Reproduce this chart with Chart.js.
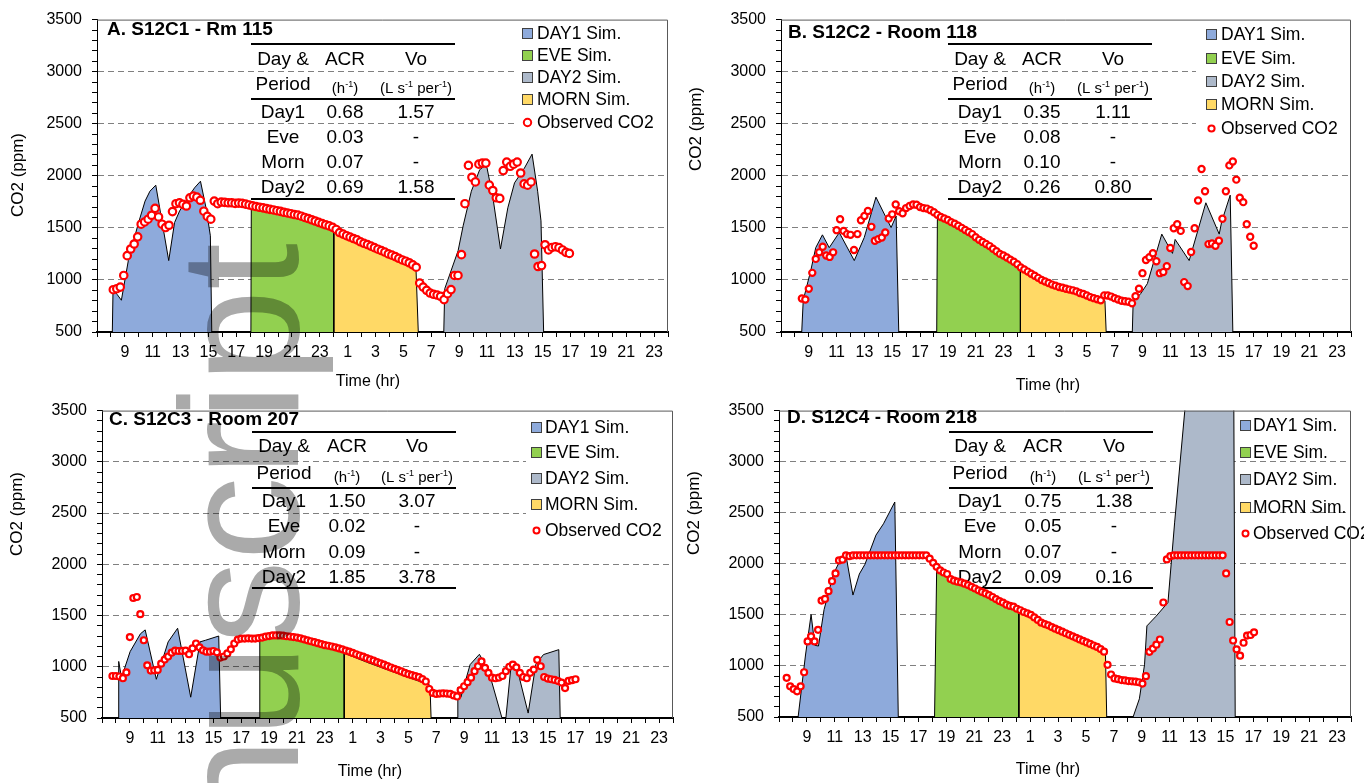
<!DOCTYPE html>
<html>
<head>
<meta charset="utf-8">
<script src="https://cdn.jsdelivr.net/npm/chart.js@4.4.1/dist/chart.umd.min.js"></script>
<style>
  html, body { margin: 0; padding: 0; background: #fff; }
  #page { position: relative; width: 1364px; height: 783px; overflow: hidden; }
  canvas.panel { position: absolute; }
  #mark { position: absolute; left: 0; top: 0; pointer-events: none; mix-blend-mode: multiply; }
</style>
</head>
<body>
<div id="page">
  <canvas id="pA" class="panel" width="682" height="391" style="left:0;top:0"></canvas>
  <canvas id="pB" class="panel" width="682" height="400" style="left:682px;top:0"></canvas>
  <canvas id="pC" class="panel" width="682" height="392" style="left:0;top:391px"></canvas>
  <canvas id="pD" class="panel" width="682" height="392" style="left:682px;top:391px"></canvas>
  <canvas id="mark" width="1364" height="783"></canvas>
</div>
<script>
const SANS = '"Liberation Sans", Arial, sans-serif';
Chart.defaults.font.family = SANS;
Chart.defaults.color = '#000';

// time axis runs over two days, hours 7 .. 48 (24 = midnight)
const OBS_STEP = 0.25;
const LEGEND_LABELS = ['DAY1 Sim.', 'EVE Sim.', 'DAY2 Sim.', 'MORN Sim.', 'Observed CO2'];
const PERIODS = ['Day1', 'Eve', 'Morn', 'Day2'];
const COLORS = { day1: '#8eaadb', eve: '#92d050', day2: '#adb9ca', morn: '#ffd966' };

// ---- A. S12C1 - Rm 115
const acrA = ['0.68', '0.03', '0.07', '0.69'];
const voA = ['1.57', '-', '-', '1.58'];
const obsStartA = 8.17;
const obsA = [906,916,931,1043,1233,1297,1345,1414,1535,1557,
  1583,1621,1688,1605,1535,1503,1525,1656,1732,1741,
  1726,1710,1789,1805,1795,1765,1660,1610,1583,1757,
  1732,1748,1745,1741,1741,1735,1738,1735,1728,1720,
  1712,1705,1698,1692,1685,1678,1672,1665,1658,1650,
  1643,1636,1628,1622,1612,1600,1590,1578,1566,1553,
  1541,1530,1519,1505,1485,1455,1440,1425,1412,1398,
  1385,1366,1352,1340,1325,1310,1295,1282,1268,1250,
  1238,1224,1208,1192,1180,1165,1145,1122,970,931,
  900,874,862,855,843,811,868,907,1043,1043,
  1243,1732,2100,1986,1941,2112,2122,2122,1910,1859,
  1789,1783,2050,2132,2091,2112,2132,2027,1922,1910,
  1941,1249,1129,1138,1338,1288,1312,1319,1310,1288,
  1265,1255];
const day1A = [[8.1,500],[8.15,905],[8.45,860],[8.75,805],[9.25,1186],[9.95,1535],[10.45,1757],[10.8,1852],[11.22,1910],[12.15,1186],[12.57,1551],[12.93,1662],[13.52,1789],[14.0,1884],[14.43,1948],[14.83,1691],[15.14,1424],[15.24,500]];
const eveA = [[18.05,500],[18.08,1705],[19,1675],[20,1648],[21,1620],[22,1583],[23,1535],[24.0,1487],[24.0,500]];
const mornA = [[24.0,500],[24.0,1487],[25,1412],[26,1358],[27,1303],[28,1246],[29,1188],[29.9,1122],[30.07,500]];
const day2A = [[31.9,500],[31.97,916],[32.93,1281],[33.29,1519],[33.88,1852],[34.48,2059],[34.79,2090],[35.0,2080],[35.43,1789],[35.97,1297],[36.5,1693],[36.98,1932],[37.69,2074],[38.24,2208],[38.64,1852],[38.88,1567],[39.07,500]];

// ---- B. S12C2 - Room 118
const acrB = ['0.35', '0.08', '0.10', '0.26'];
const voB = ['1.11', '-', '-', '0.80'];
const obsStartB = 8.5;
const obsB = [821,812,916,1068,1202,1265,1319,1234,1221,1265,
  1478,1583,1471,1440,1433,1287,1440,1573,1614,1662,
  1510,1376,1392,1408,1455,1590,1630,1725,1660,1640,
  1690,1710,1725,1722,1700,1690,1685,1670,1650,1625,
  1605,1590,1575,1555,1540,1520,1500,1480,1460,1440,
  1410,1385,1365,1345,1325,1300,1275,1250,1235,1215,
  1195,1175,1150,1120,1100,1080,1060,1040,1020,1000,
  985,970,955,945,932,925,915,907,900,890,
  875,865,850,835,825,815,805,852,850,840,
  825,812,800,795,790,775,843,916,1065,1192,
  1218,1256,1179,1065,1075,1132,1306,1497,1535,1471,
  979,941,1268,1497,1763,2065,1852,1344,1350,1328,
  1376,1588,1852,2100,2138,1963,1789,1747,1535,1414,
  1328];
const day1B = [[8.49,500],[8.6,805],[9.14,1090],[9.5,1310],[9.98,1433],[10.47,1310],[11.19,1455],[12.27,1186],[12.99,1408],[13.83,1795],[14.56,1598],[14.92,1503],[15.28,1614],[15.47,500]];
const eveB = [[18.2,500],[18.25,1605],[19,1560],[20,1490],[21,1405],[22,1320],[23,1235],[24.22,1112],[24.22,500]];
const mornB = [[24.22,500],[24.22,1112],[25,1055],[26,988],[27,935],[28,897],[29,852],[30,808],[30.3,800],[30.39,500]];
const day2B = [[32.27,500],[32.33,790],[32.87,868],[33.35,964],[34.39,1440],[35.16,1255],[35.35,1389],[36.36,1186],[37.56,1741],[38.52,1440],[38.7,1560],[39.31,1814],[39.5,500]];

// ---- C. S12C3 - Room 207
const acrC = ['1.50', '0.02', '0.09', '1.85'];
const voC = ['3.07', '-', '-', '3.78'];
const obsStartC = 7.75;
const obsC = [910,910,905,888,945,1290,1671,1681,1513,1259,
  1014,963,965,969,1030,1070,1100,1138,1157,1154,
  1155,1157,1122,1180,1227,1190,1160,1147,1147,1154,
  1141,1090,1100,1130,1170,1227,1265,1275,1275,1278,
  1275,1275,1280,1285,1295,1300,1306,1306,1306,1303,
  1298,1295,1290,1285,1278,1268,1258,1249,1240,1230,
  1220,1211,1205,1198,1190,1180,1170,1158,1148,1135,
  1122,1110,1098,1085,1072,1060,1046,1034,1020,1006,
  993,980,968,955,940,928,918,908,898,880,
  856,783,745,735,738,741,738,735,720,710,
  773,810,850,894,957,1005,1052,990,940,894,
  888,895,910,957,1000,1021,995,941,900,888,
  941,973,1068,1005,900,885,878,872,860,846,
  792,862,869,878];
const day1C = [[8.19,500],[8.2,1052],[8.4,893],[9.02,1148],[9.76,1322],[10.1,1360],[10.9,878],[11.75,1243],[12.43,1376],[13.37,703],[14.04,1243],[14.44,1259],[15.38,1300],[15.52,500]];
const eveC = [[18.3,500],[18.33,1262],[19,1280],[20,1290],[21,1282],[22,1250],[23,1210],[24,1160],[24.39,1131],[24.39,500]];
const mornC = [[24.39,500],[24.39,1131],[25,1100],[26,1045],[27,995],[28,945],[29,895],[30,848],[30.55,820],[30.63,500]];
const day2C = [[32.5,500],[32.55,798],[32.77,703],[33.43,1021],[34.1,1122],[34.77,957],[35.72,500],[36.0,500],[36.4,1052],[36.7,1040],[37.6,548],[38.15,1024],[38.7,1119],[39.8,1167],[39.9,500]];

// ---- D. S12C4 - Room 218
const acrD = ['0.75', '0.05', '0.07', '0.09'];
const voD = ['1.38', '-', '-', '0.16'];
const obsStartD = 7.55;
const obsD = [884,800,773,751,800,938,1240,1290,1240,1354,
  1640,1656,1732,1830,1906,2033,2040,2083,2075,2083,
  2083,2083,2083,2083,2083,2083,2083,2083,2083,2083,
  2083,2083,2083,2083,2083,2083,2083,2083,2083,2083,
  2083,2050,2010,1970,1935,1915,1900,1850,1835,1825,
  1818,1805,1792,1775,1758,1740,1725,1710,1694,1675,
  1655,1635,1620,1600,1588,1580,1560,1545,1528,1515,
  1500,1475,1450,1424,1410,1398,1380,1365,1350,1335,
  1320,1305,1290,1275,1260,1245,1230,1215,1200,1186,
  1165,1140,1011,916,878,870,862,858,852,849,
  846,840,827,900,1138,1170,1208,1259,1621,2043,
  2075,2083,2083,2083,2083,2083,2083,2083,2083,2083,
  2083,2083,2083,2083,2083,2083,1906,1430,1249,1163,
  1100,1227,1297,1303,1329];
const day1D = [[8.37,500],[8.9,1107],[9.3,1503],[9.57,1202],[9.83,1195],[10.23,1551],[10.9,1900],[11.3,2011],[11.83,2061],[12.3,1694],[12.76,1900],[13.16,1995],[13.95,2281],[14.49,2392],[15.3,2605],[15.55,500]];
const eveD = [[18.15,500],[18.3,1932],[19,1880],[19.5,1835],[20,1812],[21,1755],[22,1695],[23,1625],[24.19,1535],[24.19,500]];
const mornD = [[24.19,500],[24.19,1535],[25,1490],[26,1405],[27,1345],[28,1285],[29,1225],[30,1165],[30.4,1130],[30.49,500]];
const day2D = [[32.38,500],[32.83,678],[33.2,1011],[33.37,1392],[34.03,1487],[34.88,1621],[35.36,2408],[36.1,3519],[37,3900],[38,4200],[39.57,4500],[39.7,500]];

// layout of each panel, canvas pixel coordinates
const PANELS = [
  { id: 'pA', title: 'A. S12C1 - Rm 115', obs: obsA, obsStart: obsStartA, sims: [day1A, eveA, day2A, mornA], acr: acrA, vo: voA, dot: 3.7,
    area: { left: 97, right: 668, top: 17, bottom: 332 }, titlePos: [107, 30], xTitle: [368, 382], yTitle: [18, 175],
    table: { x0: 251, x1: 455, lines: [44, 99, 199], cols: [283, 345, 416], rows: [60, 85, 113, 138, 163, 188] },
    legend: { mx: 527, tx: 537, rows: [33, 55, 77, 99, 122], bg: [516, 17, 152, 118] } },
  { id: 'pB', title: 'B. S12C2 - Room 118', obs: obsB, obsStart: obsStartB, sims: [day1B, eveB, day2B, mornB], acr: acrB, vo: voB, dot: 3.1,
    area: { left: 99, right: 669, top: 17, bottom: 332 }, titlePos: [106, 33], xTitle: [366, 386], yTitle: [14, 129],
    table: { x0: 266, x1: 470, lines: [44, 99, 199], cols: [298, 360, 431], rows: [60, 85, 113, 138, 163, 188] },
    legend: { mx: 529, tx: 539, rows: [34, 58, 81, 104, 128], bg: [514, 17, 155, 123] } },
  { id: 'pC', title: 'C. S12C3 - Room 207', obs: obsC, obsStart: obsStartC, sims: [day1C, eveC, day2C, mornC], acr: acrC, vo: voC, dot: 3.0,
    area: { left: 102, right: 673, top: 12, bottom: 327 }, titlePos: [109, 29], xTitle: [370, 381], yTitle: [17, 123],
    table: { x0: 252, x1: 456, lines: [41, 97, 197], cols: [284, 347, 417], rows: [56, 83, 111, 136, 162, 187] },
    legend: { mx: 536, tx: 545, rows: [36, 61, 87, 113, 139], bg: [526, 12, 147, 140] } },
  { id: 'pD', title: 'D. S12C4 - Room 218', obs: obsD, obsStart: obsStartD, sims: [day1D, eveD, day2D, mornD], acr: acrD, vo: voD, dot: 3.0,
    area: { left: 97, right: 669, top: 11, bottom: 326 }, titlePos: [105, 27], xTitle: [366, 379], yTitle: [12, 122],
    table: { x0: 267, x1: 471, lines: [41, 97, 197], cols: [298, 361, 432], rows: [56, 83, 111, 136, 162, 187] },
    legend: { mx: 563, tx: 571, rows: [34, 61, 88, 116, 142], bg: null } }
];

function drawRich(ctx, parts, cx, baseY, size) {
  const supSize = Math.round(size * 0.6);
  const widths = parts.map(([t, sup]) => {
    ctx.font = (sup ? supSize : size) + 'px ' + SANS;
    return ctx.measureText(t).width;
  });
  let x = cx - widths.reduce((a, b) => a + b, 0) / 2;
  ctx.textAlign = 'left';
  ctx.textBaseline = 'alphabetic';
  parts.forEach(([t, sup], i) => {
    ctx.font = (sup ? supSize : size) + 'px ' + SANS;
    ctx.fillText(t, x, sup ? baseY - size * 0.42 : baseY);
    x += widths[i];
  });
}

function decoPlugin(p) {
  const swatches = [COLORS.day1, COLORS.eve, COLORS.day2, COLORS.morn, null];
  return {
    id: 'deco' + p.id,
    beforeDatasetsDraw(chart) {
      const ctx = chart.ctx;
      const t = p.table, lg = p.legend;
      ctx.save();
      if (lg.bg) {
        ctx.fillStyle = '#fff';
        ctx.fillRect(lg.bg[0], lg.bg[1], lg.bg[2], lg.bg[3]);
      }
      // table of ACR / Vo
      ctx.strokeStyle = '#000';
      ctx.lineWidth = 2;
      t.lines.forEach(y => {
        ctx.beginPath(); ctx.moveTo(t.x0, y); ctx.lineTo(t.x1, y); ctx.stroke();
      });
      ctx.fillStyle = '#000';
      ctx.textAlign = 'center';
      ctx.textBaseline = 'middle';
      ctx.font = '19px ' + SANS;
      ctx.fillText('Day &', t.cols[0], t.rows[0]);
      ctx.fillText('ACR', t.cols[1], t.rows[0]);
      ctx.fillText('Vo', t.cols[2], t.rows[0]);
      ctx.fillText('Period', t.cols[0], t.rows[1]);
      drawRich(ctx, [['(h', 0], ['-1', 1], [')', 0]], t.cols[1], t.rows[1] + 8, 15);
      drawRich(ctx, [['(L s', 0], ['-1', 1], [' per', 0], ['-1', 1], [')', 0]], t.cols[2], t.rows[1] + 8, 15);
      ctx.textAlign = 'center';
      ctx.textBaseline = 'middle';
      ctx.font = '19px ' + SANS;
      PERIODS.forEach((name, i) => {
        const y = t.rows[i + 2];
        ctx.fillText(name, t.cols[0], y);
        ctx.fillText(p.acr[i], t.cols[1], y);
        ctx.fillText(p.vo[i], t.cols[2], y);
      });
      // legend
      ctx.font = '17.5px ' + SANS;
      ctx.textAlign = 'left';
      LEGEND_LABELS.forEach((label, i) => {
        const y = lg.rows[i];
        if (swatches[i]) {
          ctx.fillStyle = swatches[i];
          ctx.fillRect(lg.mx - 4, y - 4, 9, 9);
          ctx.strokeStyle = '#404040';
          ctx.lineWidth = 1;
          ctx.strokeRect(lg.mx - 4.5, y - 4.5, 10, 10);
        } else {
          ctx.beginPath();
          ctx.arc(lg.mx + 0.5, y + 0.5, p.dot, 0, Math.PI * 2);
          ctx.fillStyle = '#fff';
          ctx.fill();
          ctx.strokeStyle = '#ff0000';
          ctx.lineWidth = 2;
          ctx.stroke();
        }
        ctx.fillStyle = '#000';
        ctx.fillText(label, lg.tx, y + 1);
      });
      ctx.restore();
    },
    afterDraw(chart) {
      const ctx = chart.ctx, a = chart.chartArea;
      ctx.save();
      ctx.strokeStyle = '#595959';
      ctx.lineWidth = 1;
      ctx.beginPath();
      ctx.moveTo(a.left, a.top + 0.5); ctx.lineTo(a.right - 0.5, a.top + 0.5); ctx.lineTo(a.right - 0.5, a.bottom);
      ctx.stroke();
      ctx.fillStyle = '#000';
      ctx.textBaseline = 'middle';
      ctx.textAlign = 'left';
      ctx.font = 'bold 19px ' + SANS;
      ctx.fillText(p.title, p.titlePos[0], p.titlePos[1]);
      ctx.textAlign = 'center';
      ctx.font = '16px ' + SANS;
      ctx.fillText('Time (hr)', p.xTitle[0], p.xTitle[1]);
      ctx.translate(p.yTitle[0], p.yTitle[1]);
      ctx.rotate(-Math.PI / 2);
      ctx.font = '17px ' + SANS;
      ctx.fillText('CO2 (ppm)', 0, 0);
      ctx.restore();
    }
  };
}

function areaSet(label, pts, color) {
  return {
    label,
    data: pts.map(([x, y]) => ({ x, y })),
    borderColor: '#000',
    borderWidth: 1,
    backgroundColor: color,
    fill: 'start',
    pointRadius: 0,
    tension: 0
  };
}

function makePanel(p) {
  const canvas = document.getElementById(p.id);
  const W = canvas.width, H = canvas.height;
  const obs = p.obs.map((v, i) => ({ x: p.obsStart + i * OBS_STEP, y: v }));
  new Chart(canvas, {
    type: 'line',
    data: {
      datasets: [
        { label: 'Observed CO2', data: obs, showLine: false, pointStyle: 'circle',
          pointRadius: p.dot, pointBorderWidth: 2.2, pointBorderColor: '#ff0000',
          pointBackgroundColor: '#ffffff', borderColor: '#ff0000', backgroundColor: '#ffffff' },
        areaSet('DAY1 Sim.', p.sims[0], COLORS.day1),
        areaSet('EVE Sim.', p.sims[1], COLORS.eve),
        areaSet('DAY2 Sim.', p.sims[2], COLORS.day2),
        areaSet('MORN Sim.', p.sims[3], COLORS.morn)
      ]
    },
    options: {
      responsive: false,
      animation: false,
      devicePixelRatio: 1,
      layout: { padding: { top: p.area.top, right: W - p.area.right, left: 0, bottom: 0 } },
      plugins: { legend: { display: false }, tooltip: { enabled: false } },
      scales: {
        x: {
          type: 'linear', min: 7, max: 48,
          afterFit: s => { s.height = H - p.area.bottom; },
          ticks: {
            stepSize: 1, autoSkip: false, maxRotation: 0, minRotation: 0, padding: 6,
            font: { size: 16 }, color: '#000',
            callback: v => (v >= 9 && v % 2 === 1) ? String(v % 24) : ''
          },
          grid: { drawOnChartArea: false, tickLength: 5, tickColor: '#000' },
          border: { color: '#000', width: 2 }
        },
        y: {
          min: 500, max: 3500,
          afterFit: s => { s.width = p.area.left; },
          ticks: {
            stepSize: 100, autoSkip: false, padding: 10,
            font: { size: 16 }, color: '#000',
            callback: v => v % 500 === 0 ? v : ''
          },
          grid: {
            color: c => (c.tick && c.tick.value % 500 === 0 && c.tick.value > 500 && c.tick.value < 3500) ? '#808080' : 'rgba(0,0,0,0)',
            tickLength: 5, tickColor: '#000', lineWidth: 1
          },
          border: { color: '#000', width: 1, dash: [6, 4] }
        }
      }
    },
    plugins: [decoPlugin(p)]
  });
}

PANELS.forEach(makePanel);

// rotated "Accepted Manuscript" stamp over the left column
const mk = document.getElementById('mark').getContext('2d');
mk.save();
mk.translate(298, 243);
mk.rotate(-Math.PI / 2);
mk.font = '168px ' + SANS;
mk.textAlign = 'right';
mk.textBaseline = 'alphabetic';
mk.fillStyle = '#aaaaaa';
mk.fillText('Accepted Manuscript', 0, 0);
mk.restore();
</script>
</body>
</html>
